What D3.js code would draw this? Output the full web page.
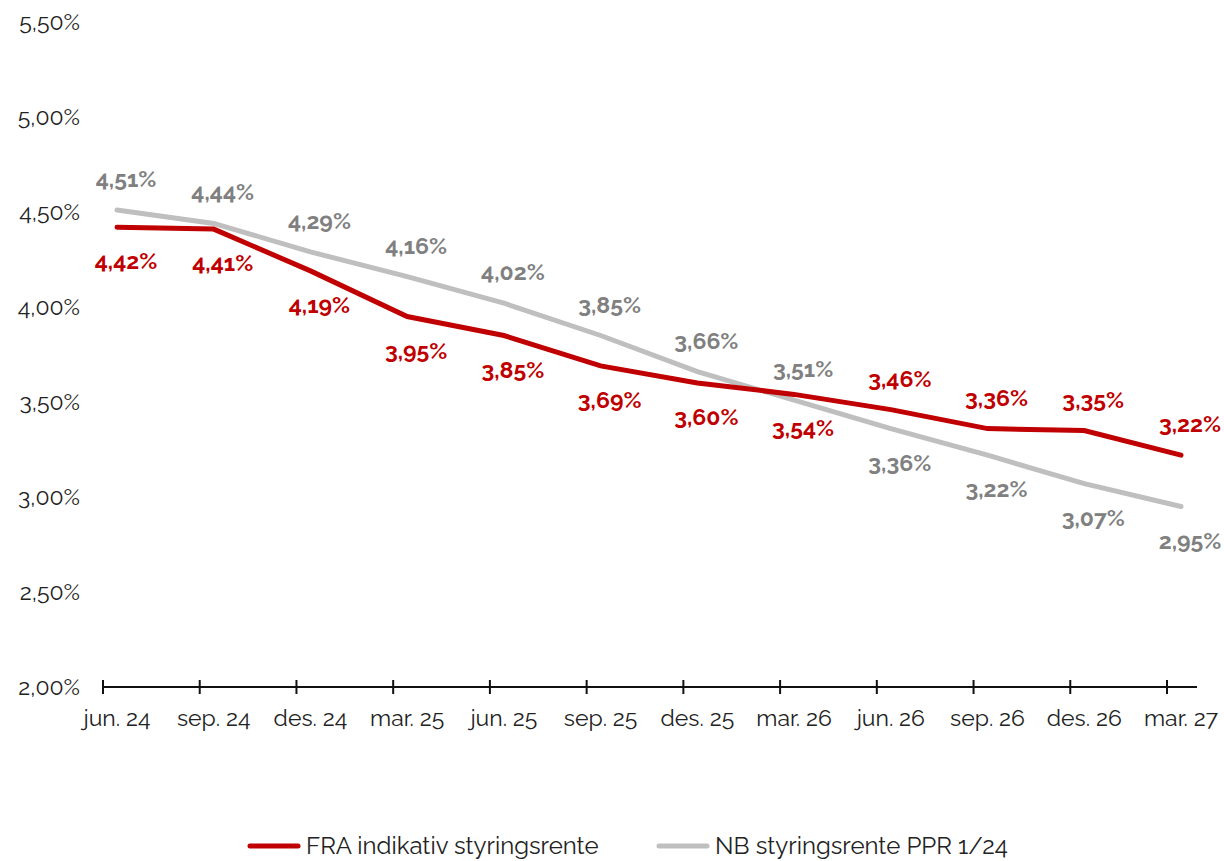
<!DOCTYPE html>
<html lang="no">
<head>
    <meta charset="UTF-8">
    <script src="https://d3js.org/d3.v7.min.js"></script>
    <title>FRA vs NB styringsrente</title>
    <style>
        body { margin: 0; background: white; }
        text { font-family: Raleway, Lato, "Open Sans", sans-serif; }
    </style>
</head>
<body>
    <div id="chart"></div>
    <script>
        // ---- data ----
        const categories = ["jun. 24", "sep. 24", "des. 24", "mar. 25", "jun. 25", "sep. 25",
                            "des. 25", "mar. 26", "jun. 26", "sep. 26", "des. 26", "mar. 27"];
        const fraValues = [4.42, 4.41, 4.19, 3.95, 3.85, 3.69, 3.60, 3.54, 3.46, 3.36, 3.35, 3.22];
        const nbValues  = [4.51, 4.44, 4.29, 4.16, 4.02, 3.85, 3.66, 3.51, 3.36, 3.22, 3.07, 2.95];
        const yTicks = [2.0, 2.5, 3.0, 3.5, 4.0, 4.5, 5.0, 5.5];
        const seriesNames = ["FRA indikativ styringsrente", "NB styringsrente PPR 1/24"];

        const width = 1224, height = 861;
        const red = "#C00000", grey = "#BFBFBF", greyText = "#808080";

        const svg = d3.select("#chart").append("svg")
            .attr("width", width)
            .attr("height", height);

        const x = d3.scalePoint().domain(categories).range([117, 1181]);
        const y = d3.scaleLinear().domain([2.0, 5.5]).range([687, 22]);
        const tickShift = -14;

        const fmt = v => d3.format(".2f")(v).replace(".", ",") + "%";

        // y labels (no axis line)
        svg.append("g").selectAll("text")
            .data(yTicks)
            .join("text")
            .attr("x", 80)
            .attr("y", d => y(d))
            .attr("dy", "0.35em")
            .attr("text-anchor", "end")
            .attr("font-size", 23)
            .attr("font-weight", 400)
            .attr("fill", "#222")
            .text(fmt);

        // x axis
        const xAxis = svg.append("g");
        xAxis.append("line")
            .attr("x1", x(categories[0]) + tickShift)
            .attr("x2", x(categories[categories.length - 1]) + 16)
            .attr("y1", y(2.0)).attr("y2", y(2.0))
            .attr("stroke", "#111").attr("stroke-width", 2);
        xAxis.selectAll(".tick")
            .data(categories)
            .join("line")
            .attr("x1", d => x(d) + tickShift)
            .attr("x2", d => x(d) + tickShift)
            .attr("y1", y(2.0) - 7).attr("y2", y(2.0) + 7)
            .attr("stroke", "#111").attr("stroke-width", 2);
        xAxis.selectAll("text")
            .data(categories)
            .join("text")
            .attr("x", d => x(d))
            .attr("y", y(2.0) + 31)
            .attr("dy", "0.35em")
            .attr("text-anchor", "middle")
            .attr("font-size", 23)
            .attr("font-weight", 400)
            .attr("fill", "#222")
            .text(d => d);

        const line = d3.line()
            .x((d, i) => x(categories[i]))
            .y(d => y(d));

        svg.append("path")
            .datum(nbValues)
            .attr("d", line)
            .attr("fill", "none")
            .attr("stroke", grey)
            .attr("stroke-width", 5)
            .attr("stroke-linecap", "round");

        svg.append("path")
            .datum(fraValues)
            .attr("d", line)
            .attr("fill", "none")
            .attr("stroke", red)
            .attr("stroke-width", 5)
            .attr("stroke-linecap", "round");

        // data labels: the higher series goes above, the lower below
        const above = 31, below = 34;
        svg.append("g").selectAll("text")
            .data(nbValues)
            .join("text")
            .attr("x", (d, i) => x(categories[i]) + 9)
            .attr("y", (d, i) => y(d) + (d >= fraValues[i] || i === 7 ? -above : below))
            .attr("dy", "0.35em")
            .attr("text-anchor", "middle")
            .attr("font-size", 23)
            .attr("font-weight", 700)
            .attr("fill", greyText)
            .text(fmt);

        svg.append("g").selectAll("text")
            .data(fraValues)
            .join("text")
            .attr("x", (d, i) => x(categories[i]) + 9)
            .attr("y", (d, i) => y(d) + (d > nbValues[i] && i !== 7 ? -above : below))
            .attr("dy", "0.35em")
            .attr("text-anchor", "middle")
            .attr("font-size", 23)
            .attr("font-weight", 700)
            .attr("fill", red)
            .text(fmt);

        // legend
        const legend = svg.append("g");
        const legendItems = [
            { name: seriesNames[0], color: red, x: 250 },
            { name: seriesNames[1], color: grey, x: 659 }
        ];
        legendItems.forEach(item => {
            legend.append("line")
                .attr("x1", item.x).attr("x2", item.x + 48)
                .attr("y1", 846).attr("y2", 846)
                .attr("stroke", item.color)
                .attr("stroke-width", 5)
                .attr("stroke-linecap", "round");
            legend.append("text")
                .attr("x", item.x + 56)
                .attr("y", 846)
                .attr("dy", "0.35em")
                .attr("font-size", 24)
                .attr("font-weight", 400)
                .attr("fill", "#222")
                .text(item.name);
        });
    </script>
</body>
</html>
